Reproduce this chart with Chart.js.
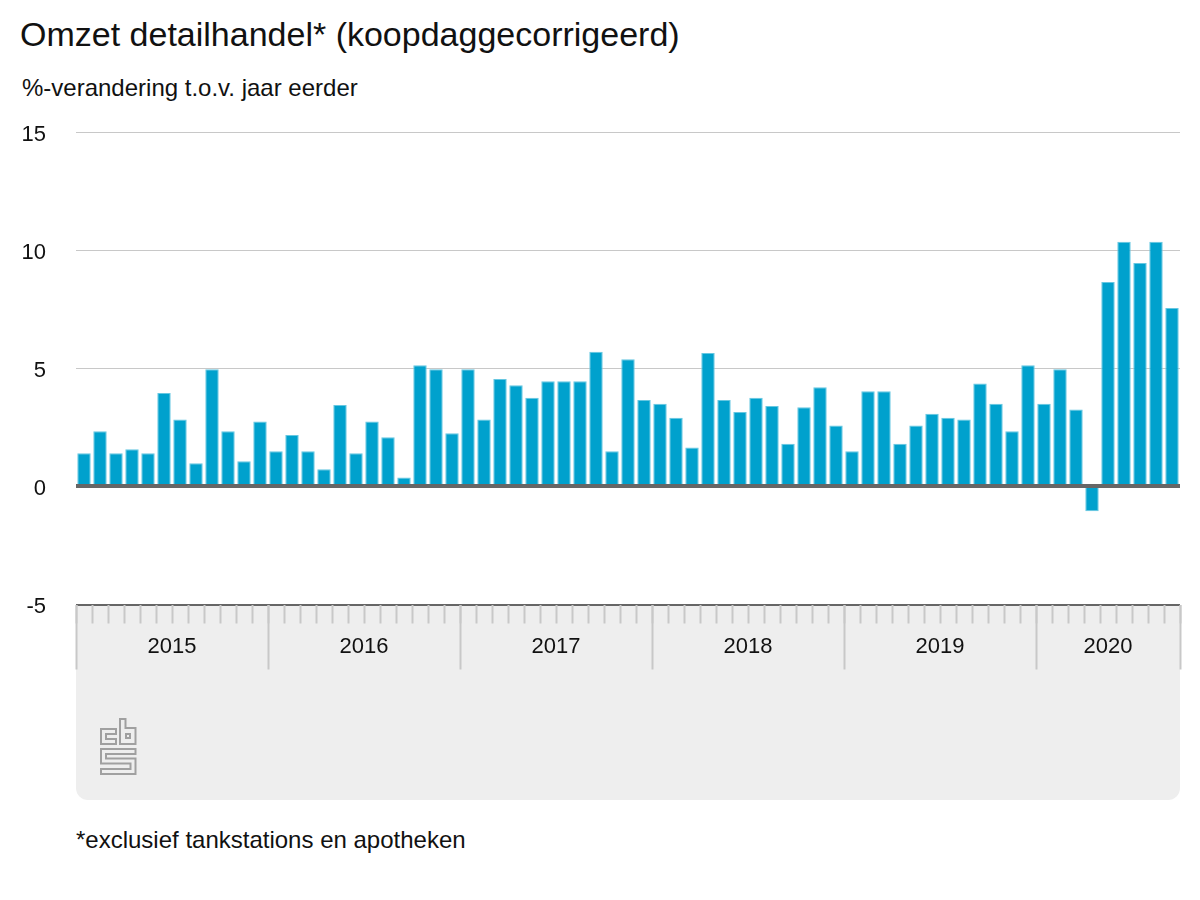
<!DOCTYPE html>
<html lang="nl">
<head>
<meta charset="utf-8">
<title>Omzet detailhandel</title>
<script src="https://cdn.jsdelivr.net/npm/chart.js@4"></script>
<style>
  html, body { margin: 0; padding: 0; background: #fff; }
  body { width: 1200px; height: 900px; position: relative; overflow: hidden; font-family: "Liberation Sans", Arial, sans-serif; color: #111; }
  #panel { position: absolute; left: 76px; top: 605px; width: 1104px; height: 195px; background: #eee; border-radius: 0 0 12px 12px; }
  #chart { position: absolute; left: 0; top: 0; }
  .txt { position: absolute; margin: 0; font-weight: normal; white-space: nowrap; }
  #title { left: 20px; top: 15px; font-size: 34px; line-height: 38px; }
  #subtitle { left: 22px; top: 75px; font-size: 24px; line-height: 26px; }
  #note { left: 76px; top: 827px; font-size: 24px; line-height: 26px; }
  #logo { position: absolute; left: 0; top: 0; }
</style>
</head>
<body>
<div id="panel"></div>
<svg id="logo" width="1200" height="900" fill="none" stroke="#a0a0a0" stroke-width="2">
  <path d="M101 729H116V734H106V739H116V744H101Z"/>
  <path d="M120 719H125.5V728H135.5V744H120Z"/>
  <path d="M126 734H130V738H126Z"/>
  <path d="M101 749H135.5V754H106V758.5H135.5V774H101V769H130.5V763.5H101Z"/>
</svg>
<h1 class="txt" id="title">Omzet detailhandel* (koopdaggecorrigeerd)</h1>
<p class="txt" id="subtitle">%-verandering t.o.v. jaar eerder</p>
<p class="txt" id="note">*exclusief tankstations en apotheken</p>
<canvas id="chart" width="1200" height="900"></canvas>
<script>
const years = ["2015", "2016", "2017", "2018", "2019", "2020"];
const yearEdges = [0, 12, 24, 36, 48, 60, 69];
const yearCentres = [6, 18, 30, 42, 54, 64.5];
const monthsPerYear = [12, 12, 12, 12, 12, 9];
const yTicks = [-5, 0, 5, 10, 15];

const values2015 = [1.4, 2.33, 1.4, 1.57, 1.4, 3.95, 2.83, 0.98, 4.96, 2.33, 1.06, 2.75];
const values2016 = [1.49, 2.17, 1.49, 0.72, 3.44, 1.4, 2.75, 2.08, 0.38, 5.13, 4.96, 2.25];
const values2017 = [4.96, 2.83, 4.55, 4.28, 3.75, 4.45, 4.45, 4.45, 5.7, 1.49, 5.38, 3.66];
const values2018 = [3.5, 2.9, 1.65, 5.65, 3.66, 3.15, 3.75, 3.4, 1.8, 3.35, 4.2, 2.58];
const values2019 = [1.49, 4.03, 4.03, 1.8, 2.58, 3.07, 2.9, 2.83, 4.35, 3.5, 2.33, 5.13];
const values2020 = [3.5, 4.96, 3.25, -1.05, 8.65, 10.35, 9.45, 10.35, 7.55];

const values = [].concat(values2015, values2016, values2017, values2018, values2019, values2020);
const months = [];
years.forEach((year, i) => {
  for (let m = 1; m <= monthsPerYear[i]; m++) months.push(year + "-" + m);
});

// zero line sits on top of the bars, other grid lines behind them
const zeroLine = {
  id: "zeroLine",
  afterDatasetsDraw(chart) {
    const { ctx, chartArea, scales } = chart;
    const y = Math.round(scales.y.getPixelForValue(0));
    ctx.save();
    ctx.fillStyle = "#666666";
    ctx.fillRect(chartArea.left, y - 2, chartArea.right - chartArea.left, 4);
    ctx.restore();
  },
};

new Chart(document.getElementById("chart").getContext("2d"), {
  type: "bar",
  data: {
    labels: months,
    datasets: [
      {
        data: values,
        backgroundColor: "#00A1CD",
        borderColor: "#66C7E1",
        borderWidth: 1,
        barPercentage: 0.84,
        categoryPercentage: 1,
      },
    ],
  },
  plugins: [zeroLine],
  options: {
    responsive: false,
    animation: false,
    layout: { padding: { top: 132, right: 20, bottom: 229.5, left: 0 } },
    plugins: { legend: { display: false }, tooltip: { enabled: false } },
    scales: {
      y: {
        min: -5,
        max: 15,
        afterBuildTicks: (scale) => {
          scale.ticks = yTicks.map((value) => ({ value }));
        },
        afterFit: (scale) => {
          scale.width = 76;
        },
        border: { display: false },
        grid: {
          drawTicks: false,
          color: (c) => (c.tick && c.tick.value === -5 ? "#666666" : "#c8c8c8"),
          lineWidth: (c) => (c.tick && c.tick.value === -5 ? 2 : 1),
        },
        ticks: {
          padding: 30,
          color: "#111",
          // empty first line nudges the number a little below its grid line
          font: { family: "'Liberation Sans'", size: 22, lineHeight: "5px" },
          callback: (value) => ["", String(value)],
        },
      },
      x: {
        offset: true,
        afterFit: (scale) => {
          scale.height = 0;
        },
        border: { display: false },
        grid: {
          offset: true,
          drawOnChartArea: false,
          tickLength: 19,
          tickWidth: 2,
          tickColor: "#c8c8c8",
        },
        ticks: { display: false, autoSkip: false },
      },
      xYears: {
        type: "linear",
        axis: "x",
        position: "bottom",
        offset: false,
        min: 0,
        max: 69,
        afterBuildTicks: (scale) => {
          scale.ticks = yearEdges
            .concat(yearCentres)
            .sort((a, b) => a - b)
            .map((value) => ({ value }));
        },
        afterFit: (scale) => {
          scale.height = 66;
        },
        border: { display: false },
        grid: {
          offset: false,
          drawOnChartArea: false,
          tickLength: 65,
          tickWidth: 2,
          tickColor: (c) =>
            c.tick && yearEdges.includes(c.tick.value) ? "#c8c8c8" : "rgba(0,0,0,0)",
        },
        ticks: {
          autoSkip: false,
          maxRotation: 0,
          padding: -36,
          color: "#111",
          font: { family: "'Liberation Sans'", size: 22 },
          callback: (value) => {
            const i = yearCentres.indexOf(value);
            return i >= 0 ? years[i] : "";
          },
        },
      },
    },
  },
});
</script>
</body>
</html>
